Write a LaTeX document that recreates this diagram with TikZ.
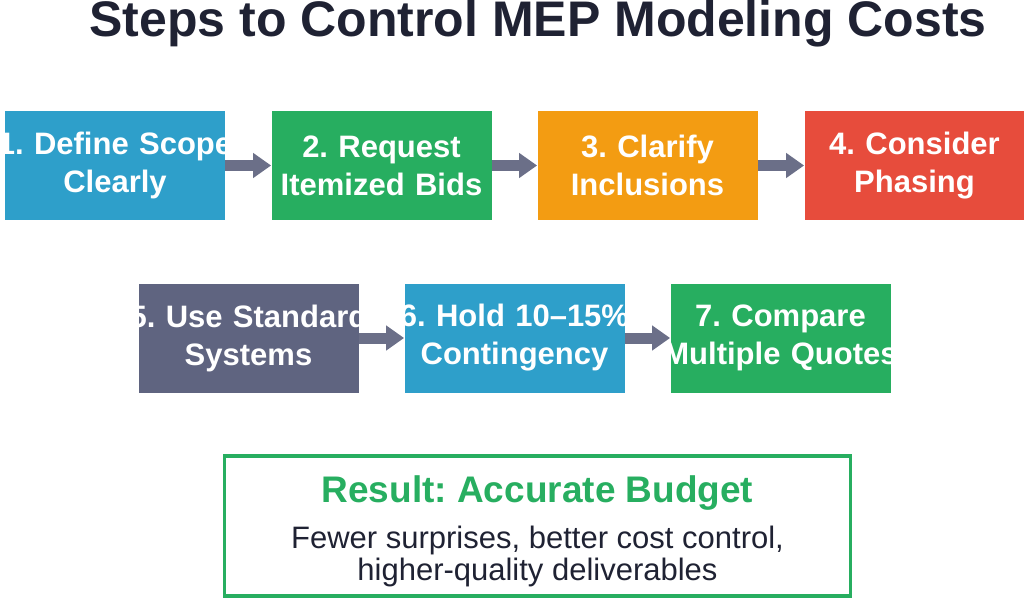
\documentclass[tikz,border=0pt]{standalone}
\usepackage{fontspec}
\setmainfont{Liberation Sans}
\usetikzlibrary{arrows.meta}
\definecolor{stepblue}{HTML}{2E9FCA}
\definecolor{stepgreen}{HTML}{27AE60}
\definecolor{steporange}{HTML}{F39C12}
\definecolor{stepred}{HTML}{E74C3C}
\definecolor{stepgray}{HTML}{5F6480}
\definecolor{arrowgray}{HTML}{6B6F88}
\definecolor{titleink}{HTML}{1F2233}
\newcommand{\twolines}[2]{\makebox[0pt]{#1}\\\makebox[0pt]{#2}}
\frenchspacing
\begin{document}
\begin{tikzpicture}[x=0.5pt,y=-0.5pt]
    \tikzstyle{stage}=[minimum width=110pt,minimum height=54.5pt,text width=100pt,inner sep=0pt,text=white,font=\fontsize{15.5}{19}\selectfont\bfseries,align=center]
    \tikzstyle{flow}=[draw=arrowgray,line width=5.5pt,-{Triangle[length=9pt,width=12pt]}]
    \useasboundingbox (0,0) rectangle (1024,599);

    % title
    \node[text=titleink,font=\fontsize{25}{28}\selectfont\bfseries] (title) at (538,24) {Steps to Control MEP Modeling Costs};

    % first row
    \node[stage,fill=stepblue] (s1) at (115,165.5) {\twolines{1. Define Scope}{Clearly}};
    \node[stage,fill=stepgreen] (s2) at (381.5,165.5) {\twolines{2. Request}{Itemized Bids}};
    \node[stage,fill=steporange] (s3) at (647.5,165.5) {\twolines{3. Clarify}{Inclusions}};
    \node[stage,fill=stepred] (s4) at (914.5,165.5) {\twolines{4. Consider}{Phasing}};

    % second row
    \node[stage,fill=stepgray] (s5) at (248.5,338) {\twolines{5. Use Standard}{Systems}};
    \node[stage,fill=stepblue] (s6) at (514.5,338) {\twolines{6. Hold 10--15\%}{Contingency}};
    \node[stage,fill=stepgreen] (s7) at (780.5,338) {\twolines{7. Compare}{Multiple Quotes}};

    % arrows
    \draw[flow] (s1.east) -- (s2.west);
    \draw[flow] (s2.east) -- (s3.west);
    \draw[flow] (s3.east) -- (s4.west);
    \draw[flow] (s5.east) -- (s6.west);
    \draw[flow] (s6.east) -- (s7.west);

    % result
    \node[draw=stepgreen,line width=1.6pt,minimum width=313pt,minimum height=70pt] (res) at (537.5,526) {};
    \node[text=stepgreen,font=\fontsize{18.5}{22}\selectfont\bfseries] (restitle) at (537.5,493) {Result: Accurate Budget};
    \node[text=titleink,font=\fontsize{15.5}{16}\selectfont,align=center] (restext) at (537.5,556) {Fewer surprises, better cost control,\\higher-quality deliverables};
\end{tikzpicture}
\end{document}
